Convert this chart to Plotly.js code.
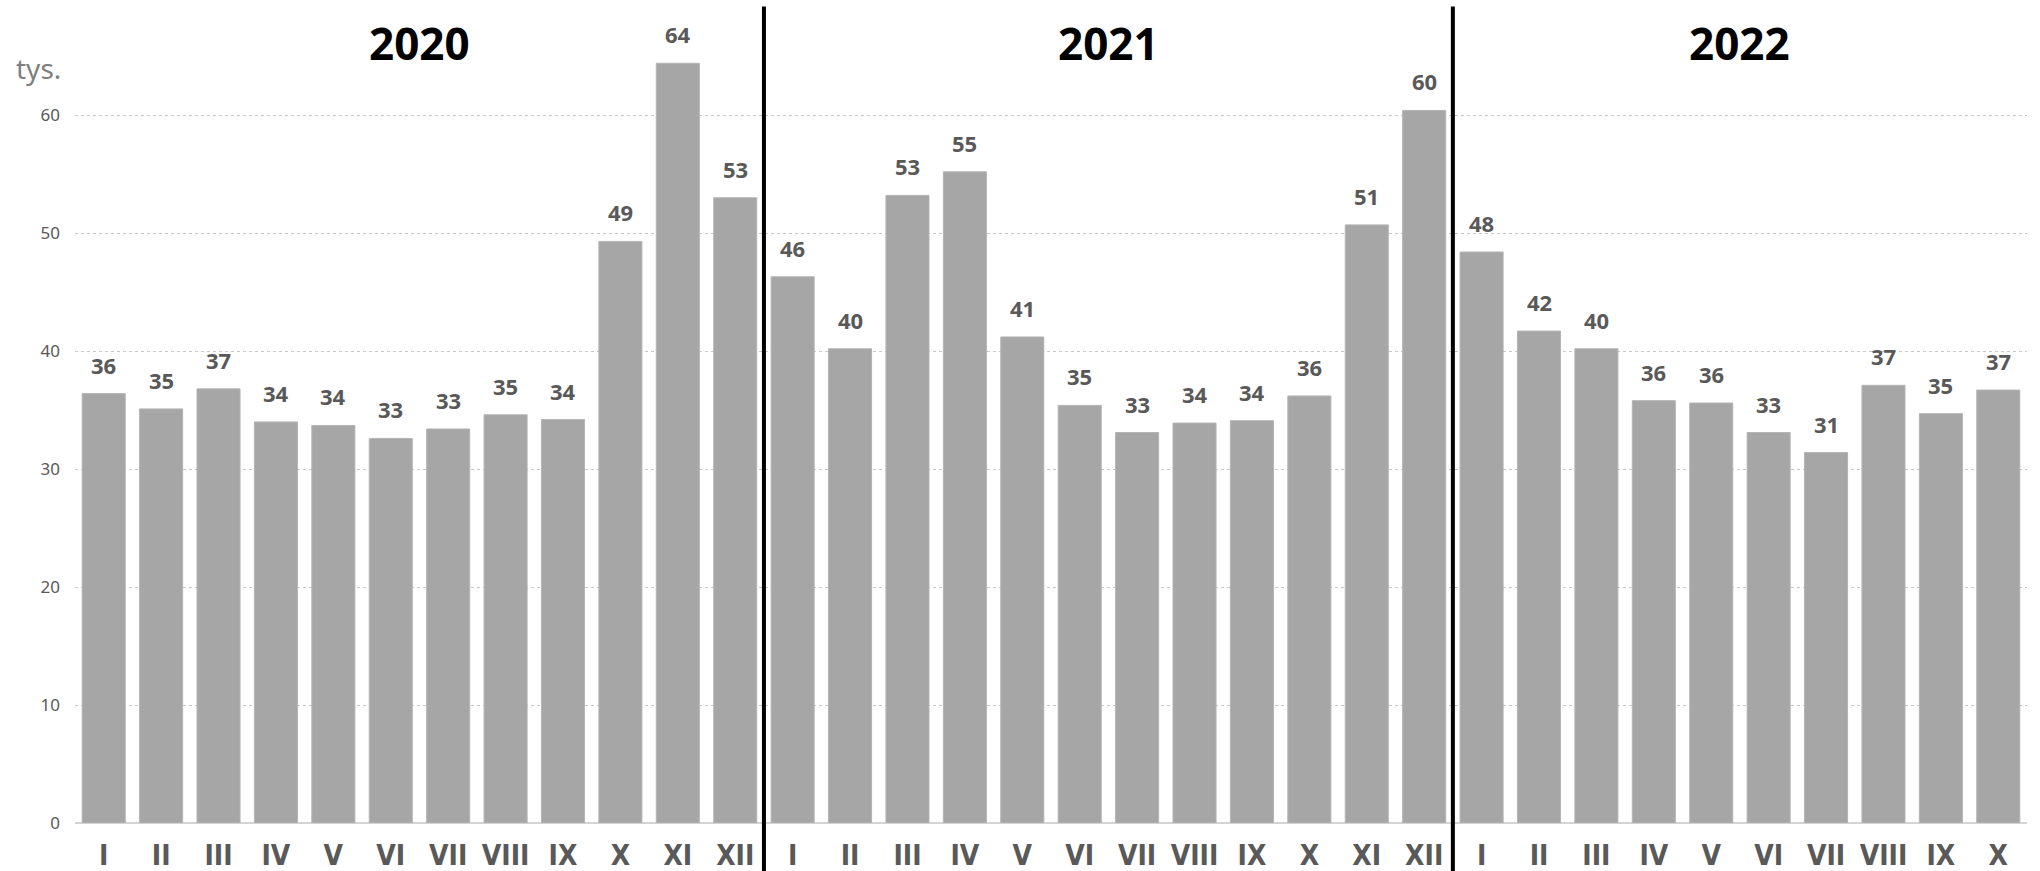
<!DOCTYPE html>
<html>
<head>
<meta charset="utf-8">
<script src="https://cdn.plot.ly/plotly-3.0.1.min.js"></script>
<style>html,body{margin:0;padding:0;background:#fff;}#chart{width:2040px;height:871px;}</style>
</head>
<body>
<div id="chart"></div>
<script>
// ---- data ----
const years = ["2020", "2021", "2022"];
const months = ["I","II","III","IV","V","VI","VII","VIII","IX","X","XI","XII"];
const values2020 = [36.4, 35.1, 36.8, 34.0, 33.7, 32.6, 33.4, 34.6, 34.2, 49.3, 64.4, 53.0];
const values2021 = [46.3, 40.2, 53.2, 55.2, 41.2, 35.4, 33.1, 33.9, 34.1, 36.2, 50.7, 60.4];
const values2022 = [48.4, 41.7, 40.2, 35.8, 35.6, 33.1, 31.4, 37.1, 34.7, 36.7];
const unitLabel = "tys.";
const yTicks = [0, 10, 20, 30, 40, 50, 60];

// ---- build ----
const series = [values2020, values2021, values2022];
const xs = [], ys = [], tickText = [];
const groupCenters = [], separators = [];
let idx = 0;
series.forEach((vals, g) => {
  const start = idx;
  vals.forEach((v, m) => {
    xs.push(idx); ys.push(v); tickText.push(months[m]); idx++;
  });
  groupCenters.push((start + idx - 1) / 2);
  if (g < series.length - 1) separators.push(idx - 0.5);
});

const labelFont = "Noto Sans, Open Sans, DejaVu Sans, sans-serif";

const annotations = [];
xs.forEach((x, i) => {
  annotations.push({
    x: x, y: ys[i], xref: "x", yref: "y",
    text: String(Math.round(ys[i])),
    showarrow: false, yanchor: "bottom", yshift: 12,
    font: {family: labelFont, size: 22, color: "#595959", weight: 700}
  });
});
years.forEach((yr, g) => {
  annotations.push({
    x: groupCenters[g], y: 0.958, xref: "x", yref: "paper",
    text: "<b>" + yr + "</b>", showarrow: false, yanchor: "middle",
    font: {family: labelFont, size: 44, color: "#000000"}
  });
});
annotations.push({
  x: -0.031, y: 0.928, xref: "paper", yref: "paper",
  text: unitLabel, showarrow: false, xanchor: "left", yanchor: "middle",
  font: {family: labelFont, size: 28, color: "#7f7f7f"}
});

const shapes = separators.map(s => ({
  type: "line", xref: "x", yref: "paper",
  x0: s, x1: s, y0: -0.07, y1: 1.003,
  line: {color: "#000000", width: 4}
}));

const trace = {
  type: "bar", x: xs, y: ys, width: 0.75,
  marker: {color: "#a6a6a6", line: {color: "#b4b4b4", width: 1}},
  hoverinfo: "none"
};

const layout = {
  width: 2040, height: 871,
  margin: {l: 75, r: 13, t: 9, b: 48},
  paper_bgcolor: "#ffffff", plot_bgcolor: "#ffffff",
  showlegend: false,
  bargap: 0.25,
  xaxis: {
    range: [-0.5, idx - 0.5],
    tickmode: "array", tickvals: xs, ticktext: tickText,
    showgrid: false, zeroline: false, showline: false, ticks: "",
    ticklabelstandoff: 13,
    tickfont: {family: "Liberation Sans Narrow, Arial Narrow, DejaVu Sans Condensed, sans-serif", size: 28, color: "#595959", weight: 700}
  },
  yaxis: {
    range: [0, 69],
    tickmode: "array", tickvals: yTicks,
    showgrid: true, gridcolor: "#c8c8c8", griddash: "dot", gridwidth: 1,
    zeroline: true, zerolinecolor: "#d4d4d4", zerolinewidth: 2,
    showline: false, ticks: "", ticklabelstandoff: 14,
    tickfont: {family: labelFont, size: 17, color: "#595959"}
  },
  annotations: annotations,
  shapes: shapes
};

Plotly.newPlot("chart", [trace], layout, {staticPlot: true, displayModeBar: false});
</script>
</body>
</html>
